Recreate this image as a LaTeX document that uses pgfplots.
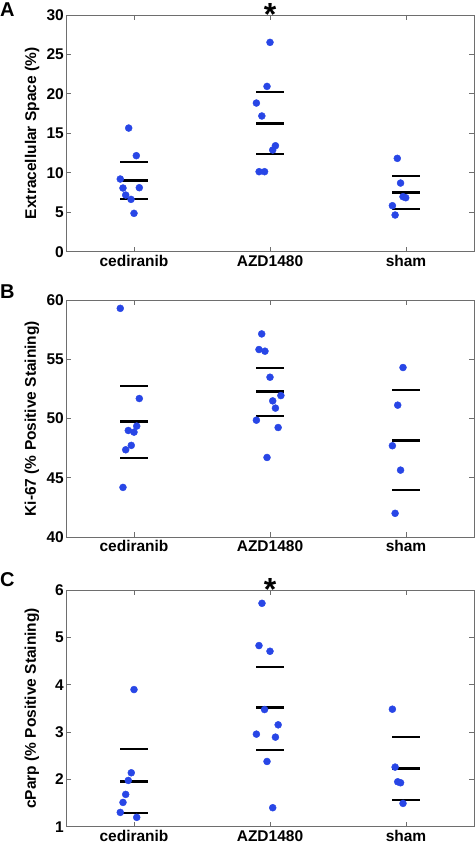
\documentclass[border=0pt]{standalone}
\usepackage{pgfplots}
\pgfplotsset{compat=1.18}
\usepackage{fontspec}
\setmainfont{Liberation Sans}
\definecolor{dotblue}{RGB}{40,70,230}
\definecolor{framegray}{RGB}{110,110,110}
\pgfplotsset{
  panel/.style={
    scale only axis, width=408pt, height=236.7pt,
    anchor=south west,
    xmin=0.5, xmax=3.5,
    xtick={1,2,3}, xticklabels={cediranib,AZD1480,sham},
    tick align=inside, major tick length=5pt,
    xtick pos=both, ytick pos=both,
    xticklabel pos=lower, yticklabel pos=left,
    axis line style={framegray, line width=0.8pt},
    every tick/.style={framegray, line width=0.8pt},
    tick label style={font=\fontsize{15.5}{18}\selectfont\bfseries, black},
    label style={font=\fontsize{15.5}{18}\selectfont\bfseries},
    /pgf/number format/assume math mode=true,
    ylabel style={at={(axis description cs:-0.0833,0.5)}, anchor=center},
    yticklabel style={inner xsep=2pt},
    clip=false,
  },
  dots/.style={only marks, mark=*, mark size=3.5pt, mark options={draw=dotblue, fill=dotblue}},
  mline/.style={black, line width=3pt, no marks},
  sline/.style={black, line width=2pt, no marks},
}
\begin{document}
\begin{tikzpicture}
\path[use as bounding box] (0,0) rectangle (475pt,843pt);
% Panel A
\begin{axis}[panel, at={(66pt,591.3pt)}, ymin=0, ymax=30, ytick={0,5,10,15,20,25,30},
  ylabel={Extracellular Space (\%)}]
\addplot[dots] coordinates {(0.961,15.67) (1.017,12.17) (0.899,9.21) (0.919,8.07) (1.039,8.11) (0.939,7.18) (0.978,6.63) (1.0,4.86)
(2.0,26.53) (1.978,20.95) (1.90,18.84) (1.94,17.2) (2.04,13.43) (2.02,12.89) (1.92,10.14) (1.96,10.14)
(2.936,11.83) (2.96,8.70) (2.90,5.83) (2.92,4.65) (2.978,6.97) (2.998,6.84)};
\addplot[mline] coordinates {(0.9,9.08) (1.1,9.08)};
\addplot[sline] coordinates {(0.9,11.32) (1.1,11.32)};
\addplot[sline] coordinates {(0.9,6.63) (1.1,6.63)};
\addplot[mline] coordinates {(1.9,16.27) (2.1,16.27)};
\addplot[sline] coordinates {(1.9,20.24) (2.1,20.24)};
\addplot[sline] coordinates {(1.9,12.34) (2.1,12.34)};
\addplot[mline] coordinates {(2.9,7.52) (3.1,7.52)};
\addplot[sline] coordinates {(2.9,9.55) (3.1,9.55)};
\addplot[sline] coordinates {(2.9,5.45) (3.1,5.45)};
\node[anchor=south, inner sep=0pt, yshift=-10.4pt, font=\fontsize{32}{32}\selectfont\bfseries] at (axis cs:2,30) {*};
\end{axis}
% Panel B
\begin{axis}[panel, at={(66pt,306pt)}, ymin=40, ymax=60, ytick={40,45,50,55,60},
  ylabel={Ki-67 (\% Positive Staining)}]
\addplot[dots] coordinates {(0.899,59.32) (1.039,51.70) (1.02,49.37) (0.958,49.0) (1.0,48.86) (0.98,47.74) (0.939,47.37) (0.919,44.19)
(1.939,57.16) (1.919,55.84) (1.963,55.70) (2.0,53.50) (2.02,51.50) (2.08,51.95) (2.04,50.89) (1.90,49.87) (2.06,49.25) (1.978,46.72)
(2.978,54.32) (2.939,51.14) (2.90,47.71) (2.96,45.65) (2.92,42.0)};
\addplot[mline] coordinates {(0.9,49.73) (1.1,49.73)};
\addplot[sline] coordinates {(0.9,52.80) (1.1,52.80)};
\addplot[sline] coordinates {(0.9,46.64) (1.1,46.64)};
\addplot[mline] coordinates {(1.9,52.26) (2.1,52.26)};
\addplot[sline] coordinates {(1.9,54.32) (2.1,54.32)};
\addplot[sline] coordinates {(1.9,50.21) (2.1,50.21)};
\addplot[mline] coordinates {(2.9,48.16) (3.1,48.16)};
\addplot[sline] coordinates {(2.9,52.38) (3.1,52.38)};
\addplot[sline] coordinates {(2.9,43.97) (3.1,43.97)};
\end{axis}
% Panel C
\begin{axis}[panel, at={(66pt,16.3pt)}, ymin=1, ymax=6, ytick={1,2,3,4,5,6},
  ylabel={cParp (\% Positive Staining)}]
\addplot[dots] coordinates {(1.0,3.897) (0.98,2.139) (0.958,1.977) (0.939,1.682) (0.919,1.513) (0.899,1.302) (1.02,1.197)
(1.941,5.719) (1.919,4.826) (2.0,4.706) (1.96,3.475) (2.06,3.152) (1.90,2.955) (2.04,2.892) (1.978,2.378) (2.02,1.401)
(2.90,3.482) (2.92,2.259) (2.939,1.949) (2.96,1.928) (2.978,1.492)};
\addplot[mline] coordinates {(0.9,1.963) (1.1,1.963)};
\addplot[sline] coordinates {(0.9,2.639) (1.1,2.639)};
\addplot[sline] coordinates {(0.9,1.281) (1.1,1.281)};
\addplot[mline] coordinates {(1.9,3.511) (2.1,3.511)};
\addplot[sline] coordinates {(1.9,4.383) (2.1,4.383)};
\addplot[sline] coordinates {(1.9,2.617) (2.1,2.617)};
\addplot[mline] coordinates {(2.9,2.224) (3.1,2.224)};
\addplot[sline] coordinates {(2.9,2.885) (3.1,2.885)};
\addplot[sline] coordinates {(2.9,1.563) (3.1,1.563)};
\node[anchor=south, inner sep=0pt, yshift=-10.4pt, font=\fontsize{32}{32}\selectfont\bfseries] at (axis cs:2,6) {*};
\end{axis}
% panel letters
\node[anchor=north west, inner sep=0pt, font=\fontsize{20}{20}\selectfont\bfseries] at (0pt,840.3pt) {A};
\node[anchor=north west, inner sep=0pt, font=\fontsize{20}{20}\selectfont\bfseries] at (0pt,558pt) {B};
\node[anchor=north west, inner sep=0pt, font=\fontsize{20}{20}\selectfont\bfseries] at (0pt,270.3pt) {C};
\end{tikzpicture}
\end{document}
